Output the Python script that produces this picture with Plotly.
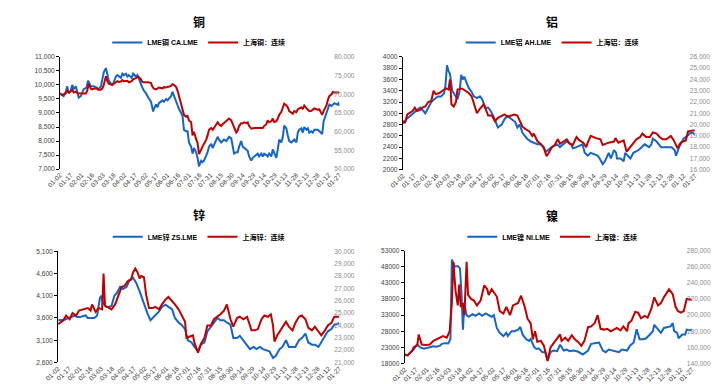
import pandas as pd
import plotly.graph_objects as go

# ---------------- data ----------------
start_date = "2022-01-02"
tick_labels = ["01-02", "01-17", "02-01", "02-16", "03-03", "03-18", "04-02", "04-17",
               "05-02", "05-17", "06-01", "06-16", "07-01", "07-16", "07-31", "08-15",
               "08-30", "09-14", "09-29", "10-14", "10-29", "11-13", "11-28", "12-13",
               "12-28", "01-12", "01-27"]
tick_step_days = 15
panel_titles = ["铜", "铝", "锌", "镍"]
lme_names = ["LME铜 CA.LME", "LME铝 AH.LME", "LME锌 ZS.LME", "LME镍 NI.LME"]
shfe_names = ["上海铜：连续", "上海铝：连续", "上海锌：连续", "上海镍：连续"]

# days since start_date, values
cu_lme_days = [0, 3, 5, 8, 10, 12, 15, 17, 19, 22, 24, 26, 29, 31, 33, 37, 39, 43, 47, 51, 54, 57, 59, 61, 64, 66,
               68, 71, 73, 75, 78, 80, 82, 85, 87, 89, 92, 94, 96, 100, 102, 106, 108, 110, 113, 115, 117, 120, 123,
               127, 130, 131, 134, 136, 138, 141, 143, 145, 148, 150, 152, 155, 157, 159, 162, 164, 166, 169, 171,
               173, 176, 178, 180, 183, 185, 187, 190, 192, 194, 197, 199, 201, 204, 206, 208, 211, 213, 215, 218,
               220, 222, 225, 227, 229, 232, 234, 236, 239, 241, 243, 246, 248, 250, 253, 255, 257, 260, 262, 264,
               267, 269, 271, 274, 276, 278, 281, 283, 285, 288, 290, 292, 295, 297, 299, 302, 304, 306, 309, 311,
               313, 316, 318, 320, 323, 325, 327, 330, 332, 334, 337, 339, 341, 344, 346, 348, 351, 353, 355, 360,
               362, 366, 368, 372, 374, 376, 379, 381, 383, 387, 389, 390]
cu_lme_vals = [9700, 9650, 9600, 9750, 9950, 9700, 9800, 10000, 9850, 9950, 9750, 9550, 9600, 9700, 9850, 9900,
               10150, 9950, 9950, 9900, 9850, 9950, 10200, 10450, 10600, 10300, 10150, 10050, 10000, 10100, 10300,
               10350, 10300, 10250, 10400, 10350, 10400, 10300, 10350, 10250, 10400, 10300, 10350, 10200, 10000,
               9900, 9800, 9700, 9550, 9400, 9050, 9150, 9300, 9200, 9350, 9400, 9450, 9400, 9500, 9450, 9500, 9600,
               9750, 9600, 9450, 9300, 9150, 9000, 8900, 8400, 8350, 8350, 7950, 7800, 7550, 7750, 7600, 7400, 7100,
               7300, 7250, 7300, 7450, 7600, 7800, 7900, 7750, 7850, 8050, 8150, 8050, 7950, 8000, 8050, 8000, 8100,
               8150, 8100, 7800, 7550, 7600, 7600, 7800, 8000, 7800, 7750, 7700, 7650, 7450, 7300, 7400, 7450, 7500,
               7550, 7450, 7550, 7450, 7550, 7500, 7450, 7550, 7450, 7700, 7550, 7400, 7700, 8050, 7950, 8150, 8550,
               8450, 8200, 8000, 7950, 8000, 8050, 7950, 8300, 8400, 8450, 8300, 8500, 8400, 8450, 8300, 8350, 8300,
               8400, 8400, 8350, 8250, 8700, 9000, 9200, 9300, 9250, 9300, 9350, 9300, 9350, 9250]

cu_shfe_days = [0, 3, 5, 8, 10, 12, 15, 17, 19, 22, 24, 26, 29, 36, 38, 40, 43, 45, 47, 51, 53, 57, 59, 61, 64, 66,
                68, 71, 73, 75, 78, 80, 82, 85, 87, 89, 94, 96, 100, 102, 106, 108, 110, 113, 115, 117, 123, 127, 129,
                131, 134, 136, 138, 141, 143, 145, 148, 150, 152, 155, 157, 159, 162, 164, 166, 169, 171, 173, 176,
                178, 180, 183, 185, 187, 190, 192, 194, 197, 199, 201, 204, 206, 208, 211, 213, 215, 218, 220, 222,
                225, 227, 229, 232, 234, 236, 239, 241, 243, 246, 248, 250, 253, 255, 257, 260, 262, 264, 267, 269,
                271, 281, 283, 285, 288, 290, 292, 295, 297, 299, 302, 304, 306, 309, 311, 313, 316, 318, 320, 323,
                325, 327, 330, 332, 334, 337, 339, 341, 344, 346, 348, 351, 353, 355, 358, 360, 362, 366, 368, 372,
                374, 376, 379, 381, 383, 390]
cu_shfe_vals = [70200, 69800, 70000, 70300, 71000, 70500, 70800, 71200, 70500, 70700, 70300, 70200, 70200, 70200,
                71000, 72800, 71500, 71300, 71500, 71600, 71200, 71200, 71500, 72500, 74800, 73500, 72800, 72600,
                72500, 72800, 73200, 73500, 73300, 73400, 73800, 73500, 73600, 73200, 73500, 74000, 74300, 74600,
                74600, 74000, 73300, 73200, 73200, 73000, 72000, 71500, 71300, 71500, 71800, 71700, 71600, 71900,
                71800, 72000, 72000, 72300, 72700, 72500, 72000, 71000, 69500, 68000, 66500, 64500, 64000, 64200,
                63000, 62500, 59000, 60000, 58000, 57000, 54000, 55500, 56000, 56800, 57800, 59000, 60500, 61000,
                60500, 61000, 61800, 62500, 62000, 61500, 62000, 62300, 62800, 63200, 63500, 63000, 62200, 61000,
                59800, 60300, 61500, 62300, 62200, 62500, 62300, 62500, 61500, 60800, 61000, 61000, 61000, 61000,
                61500, 62000, 63000, 62500, 62800, 63500, 62600, 62800, 63500, 64500, 65300, 66500, 67500, 67000,
                66500, 65500, 65000, 64800, 65500, 65200, 66000, 66200, 66500, 66000, 67000, 66300, 66000, 65500,
                65600, 65800, 66200, 66000, 65800, 66000, 64500, 65500, 67000, 68500, 69500, 70000, 70600, 70500,
                70500]

al_lme_days = [0, 3, 5, 10, 14, 18, 23, 27, 30, 34, 38, 42, 47, 51, 55, 57, 59, 61, 63, 66, 71, 73, 76, 78, 80, 82,
               85, 88, 91, 95, 99, 103, 106, 110, 114, 117, 121, 125, 127, 132, 136, 140, 145, 150, 153, 156, 160,
               163, 166, 171, 175, 180, 184, 188, 191, 194, 199, 206, 210, 214, 219, 225, 227, 232, 240, 243, 247,
               251, 255, 260, 263, 267, 270, 272, 275, 278, 282, 285, 286, 291, 295, 297, 300, 304, 308, 315, 319,
               323, 329, 332, 334, 339, 345, 349, 354, 359, 363, 365, 369, 375, 380, 384, 388, 390]
al_lme_vals = [2820, 2850, 2900, 2950, 3000, 3050, 3100, 3050, 3000, 3100, 3200, 3250, 3300, 3300, 3350, 3500, 3850,
               3750, 3700, 3400, 3300, 3250, 3400, 3680, 3600, 3650, 3550, 3450, 3400, 3300, 3270, 3300, 3250, 3100,
               3100, 3050, 2950, 2800, 2750, 2800, 2900, 2950, 2900, 2850, 2750, 2800, 2650, 2600, 2550, 2500, 2480,
               2450, 2450, 2400, 2320, 2350, 2400, 2450, 2400, 2450, 2500, 2450, 2380, 2400, 2450, 2300, 2250, 2300,
               2280, 2250, 2200, 2100, 2150, 2200, 2300, 2200, 2350, 2300, 2200, 2200, 2150, 2300, 2250, 2200, 2300,
               2350, 2400, 2450, 2400, 2450, 2550, 2500, 2400, 2400, 2400, 2400, 2350, 2250, 2400, 2550, 2600, 2650,
               2650, 2620]

al_shfe_days = [0, 3, 6, 10, 13, 16, 19, 23, 26, 30, 34, 38, 41, 44, 49, 53, 58, 61, 63, 65, 68, 71, 73, 79, 84, 88,
                92, 95, 99, 103, 108, 110, 114, 119, 123, 127, 132, 136, 140, 145, 149, 153, 156, 160, 164, 169, 173,
                175, 180, 184, 188, 192, 195, 199, 203, 207, 210, 214, 219, 223, 227, 232, 236, 241, 245, 247, 249,
                251, 258, 264, 267, 271, 275, 282, 284, 288, 293, 295, 299, 304, 308, 312, 317, 320, 325, 330, 334,
                339, 343, 347, 352, 358, 362, 367, 371, 378, 381, 390]
al_shfe_vals = [20300, 20200, 20900, 21100, 21200, 21500, 21200, 21300, 21500, 21600, 22000, 22100, 23000, 22700,
                22800, 23000, 23200, 23100, 24000, 21800, 21600, 22000, 23100, 23200, 23000, 22800, 22500, 21800,
                21000, 21400, 21800, 21500, 20800, 20800, 20300, 20600, 20800, 20900, 20700, 20800, 20900, 20800,
                20400, 19800, 19600, 19400, 19000, 19200, 18500, 18300, 18000, 17200, 17500, 18000, 18200, 18700,
                18300, 18500, 18700, 18300, 18200, 18900, 18600, 18400, 18000, 18400, 18800, 19000, 18800, 18700,
                18200, 18300, 18400, 18500, 18800, 18400, 18500, 18600, 17600, 18000, 18400, 18700, 18900, 19200,
                18900, 18900, 19300, 19200, 18900, 18700, 18700, 19000, 18600, 17900, 18400, 18600, 19400, 19500]

zn_lme_days = [0, 5, 9, 14, 18, 23, 27, 30, 34, 38, 41, 45, 50, 54, 58, 60, 62, 64, 67, 70, 74, 78, 81, 86, 90, 95,
               99, 104, 108, 113, 115, 119, 124, 128, 131, 135, 140, 144, 149, 153, 158, 162, 167, 171, 176, 180,
               185, 189, 194, 198, 203, 207, 212, 216, 221, 225, 230, 234, 239, 243, 248, 252, 257, 262, 266, 271,
               275, 280, 284, 293, 298, 302, 307, 311, 316, 320, 325, 329, 334, 338, 343, 347, 352, 356, 361, 365,
               370, 374, 379, 383, 390]
zn_lme_vals = [3550, 3550, 3560, 3600, 3620, 3650, 3620, 3620, 3640, 3660, 3600, 3600, 3600, 3650, 4050, 4100, 3950,
               3900, 3850, 3850, 3870, 4100, 4150, 4300, 4250, 4300, 4450, 4500, 4400, 4200, 4100, 3900, 3700, 3550,
               3600, 3650, 3750, 3850, 3900, 3850, 3800, 3600, 3500, 3450, 3350, 3100, 3050, 2950, 2850, 3000, 3050,
               3300, 3400, 3500, 3600, 3550, 3550, 3500, 3450, 3150, 3150, 3200, 3100, 3000, 2900, 2950, 2900, 2950,
               2900, 2850, 2700, 2750, 2900, 2950, 3100, 2950, 2950, 2950, 3100, 3150, 3250, 3050, 3000, 3000, 2950,
               3050, 3200, 3300, 3350, 3450, 3480]

zn_shfe_days = [0, 4, 7, 11, 16, 20, 25, 29, 34, 41, 45, 47, 52, 56, 61, 63, 65, 70, 74, 79, 83, 88, 92, 97, 101,
                104, 107, 110, 113, 115, 119, 122, 126, 131, 135, 140, 144, 149, 153, 158, 162, 167, 171, 176, 178,
                183, 187, 189, 194, 198, 203, 207, 212, 216, 221, 225, 230, 234, 239, 243, 248, 252, 257, 262, 266,
                268, 273, 277, 282, 286, 291, 295, 298, 300, 304, 309, 311, 316, 320, 325, 329, 334, 338, 343, 347,
                352, 356, 361, 365, 370, 374, 379, 383, 390]
zn_shfe_vals = [24100, 24300, 24400, 24800, 24500, 25000, 24800, 25200, 25300, 25400, 25200, 25700, 25100, 25400,
                25300, 28200, 25600, 25400, 25300, 25700, 26400, 27100, 27200, 27600, 27700, 28300, 28600, 28300,
                27800, 28000, 27900, 26500, 25400, 25400, 25500, 25300, 25700, 26100, 26300, 26000, 25700, 25300,
                24800, 24300, 23000, 23100, 23200, 22600, 21800, 22500, 23000, 24000, 24000, 24500, 24700, 24900,
                25200, 25700, 24500, 23900, 24600, 24700, 24500, 24700, 24000, 23600, 23600, 23700, 24500, 24800,
                24700, 24900, 24000, 22700, 23200, 23700, 23800, 24300, 23900, 23600, 24200, 24700, 24800, 24500,
                23800, 23600, 23900, 23500, 23200, 23600, 24000, 24200, 24700, 24700]

ni_lme_days = [0, 4, 8, 12, 17, 21, 26, 30, 34, 39, 43, 48, 50, 54, 59, 62, 64, 68, 72, 75, 77, 79, 81, 84, 87, 92,
               96, 101, 105, 110, 114, 118, 121, 125, 129, 134, 138, 140, 145, 149, 154, 157, 160, 165, 169, 171, 176,
               179, 182, 187, 191, 194, 198, 202, 207, 211, 216, 220, 224, 229, 235, 242, 249, 253, 258, 264, 269,
               273, 277, 282, 286, 291, 295, 302, 306, 311, 315, 319, 324, 328, 333, 337, 339, 344, 348, 352, 357,
               361, 364, 366, 370, 372, 377, 381, 383, 388, 390]
ni_lme_vals = [20800, 20500, 21500, 22300, 23900, 23000, 22600, 22800, 23000, 23300, 23200, 23500, 24000, 24300,
               24200, 25500, 50200, 48000, 48200, 47500, 40000, 28500, 36500, 33000, 32500, 33300, 32800, 33500,
               32800, 33500, 33000, 32500, 33000, 29000, 27500, 26500, 27500, 26500, 28000, 28000, 28500, 29300,
               27000, 25500, 25000, 25600, 23000, 22500, 22700, 21500, 21500, 19000, 21500, 22000, 21800, 23800,
               22000, 22300, 21800, 22000, 21700, 20800, 22000, 24000, 24300, 24500, 22000, 21500, 22300, 22000,
               21700, 21500, 22300, 22000, 23500, 24500, 28600, 25500, 25500, 25800, 27000, 28000, 30000, 28500,
               27500, 29000, 29200, 29500, 30500, 28000, 27500, 25800, 27000, 27000, 28500, 28300, 28600]

ni_shfe_days = [0, 4, 6, 10, 12, 17, 19, 23, 28, 34, 39, 43, 48, 52, 57, 61, 64, 66, 69, 72, 74, 76, 79, 81, 84, 86,
                90, 94, 98, 103, 108, 112, 114, 118, 125, 129, 134, 138, 143, 147, 154, 158, 163, 167, 171, 174, 177,
                180, 185, 189, 194, 198, 202, 207, 211, 213, 218, 222, 227, 231, 235, 240, 244, 249, 253, 258, 262,
                266, 271, 275, 280, 284, 288, 293, 297, 302, 304, 308, 313, 317, 321, 326, 330, 335, 339, 344, 348,
                352, 359, 364, 368, 371, 375, 379, 383, 390]
ni_shfe_vals = [151000, 150000, 152000, 156000, 160000, 163000, 176000, 163500, 163000, 163500, 168000, 170000,
                172000, 174000, 172000, 180000, 215000, 266000, 230000, 212000, 238000, 210000, 215000, 200000,
                266000, 225000, 220000, 218000, 212000, 218000, 237000, 232000, 225000, 232000, 223000, 205000,
                202000, 210000, 200000, 212000, 215000, 224000, 210000, 195000, 190000, 170000, 180000, 167000,
                168000, 162000, 143000, 160000, 165000, 172000, 176000, 168000, 172000, 168000, 175000, 170000,
                167000, 162000, 168000, 185000, 186000, 190000, 200000, 183000, 182000, 183000, 180000, 182000,
                184000, 181000, 186000, 180000, 190000, 193000, 204000, 203000, 196000, 199000, 197000, 208000,
                222000, 212000, 215000, 222000, 232000, 226000, 210000, 205000, 203000, 205000, 220000, 219000]

left_ranges = [(7000, 11000, 500), (2000, 4000, 200), (2600, 5100, 500), (18000, 53000, 5000)]
right_ranges = [(50000, 80000, 5000), (16000, 26000, 1000), (21000, 30000, 1000), (140000, 280000, 20000)]
left_formats = [",d", "d", ",d", "d"]

# ---------------- styling / layout ----------------
W, H = 722, 384
BLUE = "#1565C8"
RED = "#C00000"
FONT = "Liberation Sans, Noto Sans CJK SC, sans-serif"
TICK_SIZE = 6.6

# panel plot areas in pixels: (left, right, top, bottom)
boxes = [(39, 325, 45.7, 160), (390, 689, 45.7, 160.7), (37, 325, 243.7, 357), (392, 686, 243, 358)]
title_pos = [(181, 11), (543, 11), (181, 208), (543, 208)]
legend_pos = [(181, 31), (543, 31), (181, 229), (543, 229)]

start = pd.Timestamp(start_date)
tick_dates = [start + pd.Timedelta(days=tick_step_days * i) for i in range(len(tick_labels))]
end = tick_dates[-1]


def to_dates(days):
    return [start + pd.Timedelta(days=int(d)) for d in days]


series = [
    (cu_lme_days, cu_lme_vals, cu_shfe_days, cu_shfe_vals),
    (al_lme_days, al_lme_vals, al_shfe_days, al_shfe_vals),
    (zn_lme_days, zn_lme_vals, zn_shfe_days, zn_shfe_vals),
    (ni_lme_days, ni_lme_vals, ni_shfe_days, ni_shfe_vals),
]

fig = go.Figure()
layout = dict(width=W, height=H, margin=dict(l=0, r=0, t=0, b=0), paper_bgcolor="white",
              plot_bgcolor="white", font=dict(family=FONT, size=8, color="#404040"), annotations=[],
              showlegend=True)

for i in range(4):
    n = i + 1
    xa = "x" if n == 1 else f"x{n}"
    ya = "y" if n == 1 else f"y{n}"
    yb = f"y{n + 4}"
    leg = "legend" if n == 1 else f"legend{n}"
    ld, lv, sd, sv = series[i]
    fig.add_trace(go.Scatter(x=to_dates(ld), y=lv, mode="lines", name=lme_names[i],
                             line=dict(color=BLUE, width=2), xaxis=xa, yaxis=ya, legend=leg))
    fig.add_trace(go.Scatter(x=to_dates(sd), y=sv, mode="lines", name=shfe_names[i],
                             line=dict(color=RED, width=2), xaxis=xa, yaxis=yb, legend=leg))
    l, r, t, b = boxes[i]
    xdom = [l / W, r / W]
    ydom = [1 - b / H, 1 - t / H]
    xkey = "xaxis" if n == 1 else f"xaxis{n}"
    ykey = "yaxis" if n == 1 else f"yaxis{n}"
    layout[xkey] = dict(domain=xdom, anchor=ya, type="date", range=[start, end],
                        tickmode="array", tickvals=tick_dates, ticktext=tick_labels, tickangle=-45,
                        tickfont=dict(size=TICK_SIZE, color="#404040"), showgrid=False, zeroline=False,
                        showline=False, ticks="", ticklen=2)
    lo, hi, dt = left_ranges[i]
    layout[ykey] = dict(domain=ydom, anchor=xa, range=[lo, hi], dtick=dt, tick0=lo,
                        tickformat=left_formats[i], showgrid=False, zeroline=False,
                        showline=True, linecolor="#000000", linewidth=1, ticks="outside",
                        ticklen=3, tickcolor="#000000", tickfont=dict(size=TICK_SIZE, color="#404040"))
    rlo, rhi, rdt = right_ranges[i]
    layout[f"yaxis{n + 4}"] = dict(overlaying=ya, anchor=xa, side="right", range=[rlo, rhi], dtick=rdt,
                                   tick0=rlo, tickformat=",d", showgrid=False, zeroline=False,
                                   showline=False, ticks="", ticklen=0, ticklabelstandoff=-6,
                                   tickfont=dict(size=TICK_SIZE, color="#8c8c8c"))
    lx, lyp = legend_pos[i]
    layout[leg] = dict(orientation="h", x=lx / W, y=1 - lyp / H, xanchor="center", yanchor="middle",
                       bgcolor="rgba(0,0,0,0)", font=dict(size=7, color="#000000", weight="bold"),
                       itemwidth=30, tracegroupgap=0, itemclick=False)
    tx, ty = title_pos[i]
    layout["annotations"].append(dict(text=panel_titles[i], x=tx / W, y=1 - ty / H, xref="paper",
                                      yref="paper", showarrow=False, xanchor="center", yanchor="middle",
                                      font=dict(size=12, color="#000000", weight="bold")))

fig.update_layout(**layout)
fig.write_html("out.html")
